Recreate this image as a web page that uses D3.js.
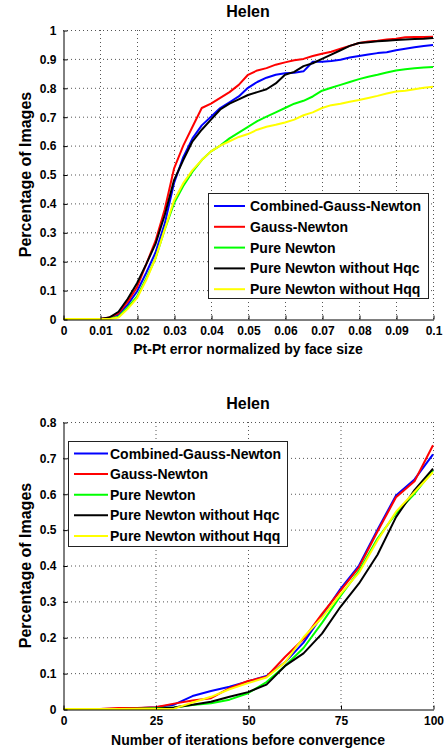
<!DOCTYPE html>
<html>
<head>
<meta charset="utf-8">
<script src="https://cdn.jsdelivr.net/npm/d3@7/dist/d3.min.js"></script>
<style>
  body { margin: 0; background: #fff; }
  text { font-family: "Liberation Sans", Arial, Helvetica, sans-serif; font-weight: bold; fill: #000; }
  .grid line { stroke: #555; stroke-dasharray: 1,3; stroke-width: 1; }
  .axis path, .axis line { stroke: #000; }
</style>
</head>
<body>
<div id="chart"></div>
<script>
const seriesNames = ['Combined-Gauss-Newton', 'Gauss-Newton', 'Pure Newton', 'Pure Newton without Hqc', 'Pure Newton without Hqq'];
const seriesColors = ['#0000ff', '#ff0000', '#00ff00', '#000000', '#ffff00'];

// top panel: cumulative error curves
const errX = [0, 0.01, 0.0125, 0.015, 0.0175, 0.02, 0.0225, 0.025, 0.0275, 0.03, 0.0325, 0.035, 0.0375, 0.04,
  0.0425, 0.045, 0.0475, 0.05, 0.0525, 0.055, 0.0575, 0.06, 0.0625, 0.065, 0.0675, 0.07, 0.0725, 0.075,
  0.0775, 0.08, 0.0825, 0.085, 0.0875, 0.09, 0.0925, 0.095, 0.0975, 0.1];
const errBlue = [0, 0, 0.003, 0.015, 0.05, 0.095, 0.16, 0.23, 0.33, 0.47, 0.56, 0.625, 0.67, 0.70, 0.73, 0.75,
  0.77, 0.80, 0.82, 0.835, 0.845, 0.85, 0.852, 0.857, 0.89, 0.89, 0.893, 0.897, 0.905, 0.91, 0.915, 0.92,
  0.923, 0.93, 0.935, 0.94, 0.945, 0.948];
const errRed = [0, 0, 0.005, 0.02, 0.06, 0.11, 0.19, 0.27, 0.38, 0.52, 0.60, 0.665, 0.73, 0.745, 0.765, 0.785,
  0.81, 0.845, 0.86, 0.868, 0.88, 0.888, 0.895, 0.90, 0.91, 0.918, 0.925, 0.935, 0.945, 0.955, 0.96, 0.963,
  0.967, 0.97, 0.975, 0.976, 0.976, 0.977];
const errGreen = [0, 0, 0.001, 0.008, 0.04, 0.077, 0.14, 0.21, 0.31, 0.40, 0.46, 0.51, 0.55, 0.58, 0.60, 0.625,
  0.645, 0.665, 0.685, 0.70, 0.715, 0.73, 0.745, 0.755, 0.77, 0.79, 0.80, 0.81, 0.82, 0.83, 0.838, 0.845,
  0.853, 0.86, 0.864, 0.868, 0.87, 0.872];
const errBlack = [0, 0, 0.005, 0.025, 0.07, 0.124, 0.19, 0.26, 0.36, 0.48, 0.55, 0.615, 0.655, 0.69, 0.725, 0.745,
  0.76, 0.775, 0.785, 0.795, 0.815, 0.845, 0.855, 0.875, 0.885, 0.90, 0.915, 0.93, 0.945, 0.955, 0.958, 0.961,
  0.963, 0.965, 0.967, 0.969, 0.97, 0.972];
const errYellow = [0, 0, 0, 0.005, 0.035, 0.072, 0.135, 0.21, 0.31, 0.41, 0.47, 0.515, 0.55, 0.58, 0.60, 0.615,
  0.63, 0.64, 0.655, 0.665, 0.672, 0.68, 0.69, 0.705, 0.715, 0.73, 0.74, 0.745, 0.752, 0.758, 0.765, 0.772,
  0.78, 0.787, 0.79, 0.795, 0.80, 0.804];
const errXTicks = [0, 0.01, 0.02, 0.03, 0.04, 0.05, 0.06, 0.07, 0.08, 0.09, 0.1];
const errYTicks = [0, 0.1, 0.2, 0.3, 0.4, 0.5, 0.6, 0.7, 0.8, 0.9, 1];

// bottom panel: iterations before convergence
const itX = [0, 5, 10, 15, 20, 25, 30, 35, 40, 45, 50, 55, 60, 65, 70, 75, 80, 85, 90, 95, 100];
const itBlue = [0, 0, 0, 0.001, 0.002, 0.005, 0.012, 0.036, 0.05, 0.062, 0.077, 0.092, 0.13, 0.185, 0.26, 0.335, 0.40, 0.50, 0.595, 0.64, 0.71];
const itRed = [0, 0, 0, 0.003, 0.003, 0.005, 0.015, 0.024, 0.03, 0.058, 0.078, 0.09, 0.145, 0.195, 0.265, 0.33, 0.395, 0.495, 0.59, 0.635, 0.735];
const itGreen = [0, 0, 0, 0, 0.001, 0.002, 0.004, 0.011, 0.016, 0.026, 0.044, 0.075, 0.12, 0.17, 0.24, 0.315, 0.385, 0.475, 0.545, 0.60, 0.665];
const itBlack = [0, 0, 0, 0, 0, 0.001, 0.004, 0.012, 0.02, 0.034, 0.047, 0.068, 0.12, 0.155, 0.21, 0.285, 0.35, 0.43, 0.535, 0.61, 0.67];
const itYellow = [0, 0, 0, 0, 0, 0, 0.001, 0.018, 0.034, 0.055, 0.072, 0.088, 0.13, 0.2, 0.255, 0.32, 0.38, 0.47, 0.55, 0.605, 0.66];
const itXTicks = [0, 25, 50, 75, 100];
const itYTicks = [0, 0.1, 0.2, 0.3, 0.4, 0.5, 0.6, 0.7, 0.8];

const svg = d3.select('#chart').append('svg')
  .attr('width', 445).attr('height', 752);

svg.append('rect').attr('width', 445).attr('height', 752).attr('fill', '#fff');

function drawPanel(p) {
  const x = d3.scaleLinear().domain(p.xDomain).range([p.left, p.right]);
  const y = d3.scaleLinear().domain(p.yDomain).range([p.bottom, p.top]);
  const g = svg.append('g');

  // dotted grid
  const grid = g.append('g').attr('class', 'grid');
  grid.selectAll('.gx').data(p.xTicks.filter(d => d !== p.xDomain[0])).enter().append('line')
    .attr('x1', d => x(d) + 0.5).attr('x2', d => x(d) + 0.5)
    .attr('y1', p.top).attr('y2', p.bottom);
  grid.selectAll('.gy').data(p.yTicks.filter(d => d !== p.yDomain[0])).enter().append('line')
    .attr('x1', p.left).attr('x2', p.right)
    .attr('y1', d => y(d) + 0.5).attr('y2', d => y(d) + 0.5);

  // curves
  const line = d3.line().x(d => x(d[0])).y(d => y(d[1]));
  p.series.forEach((vals, i) => {
    g.append('path')
      .datum(p.xs.map((v, j) => [v, vals[j]]))
      .attr('fill', 'none')
      .attr('stroke', seriesColors[i])
      .attr('stroke-width', 2)
      .attr('stroke-linejoin', 'round')
      .attr('d', line);
  });

  // axes
  const xAxis = g.append('g').attr('class', 'axis')
    .attr('transform', `translate(0.5, ${p.bottom + 0.5})`)
    .call(d3.axisBottom(x).tickValues(p.xTicks).tickSizeInner(-4).tickSizeOuter(0)
      .tickPadding(7).tickFormat(d3.format('~g')));
  const yAxis = g.append('g').attr('class', 'axis')
    .attr('transform', `translate(${p.left + 0.5}, 0.5)`)
    .call(d3.axisLeft(y).tickValues(p.yTicks).tickSizeInner(-4).tickSizeOuter(0)
      .tickPadding(7).tickFormat(d3.format('~g')));
  [xAxis, yAxis].forEach(a => a.selectAll('text')
    .style('font-family', '"Liberation Sans", Arial, sans-serif')
    .style('font-weight', 'bold').attr('font-size', 12).attr('fill', '#000'));

  // titles
  g.append('text').attr('x', (p.left + p.right) / 2).attr('y', p.titleY)
    .attr('text-anchor', 'middle').attr('font-size', 16).text('Helen');
  g.append('text').attr('x', (p.left + p.right) / 2).attr('y', p.xLabelY)
    .attr('text-anchor', 'middle').attr('font-size', 14).text(p.xLabel);
  g.append('text')
    .attr('transform', `translate(${p.yLabelX}, ${(p.top + p.bottom) / 2}) rotate(-90)`)
    .attr('text-anchor', 'middle').attr('font-size', 16).text('Percentage of Images');

  // legend
  const lg = g.append('g');
  lg.append('rect')
    .attr('x', p.legend.x + 0.5).attr('y', p.legend.y + 0.5)
    .attr('width', p.legend.w).attr('height', p.legend.h)
    .attr('fill', '#fff').attr('stroke', '#222');
  seriesNames.forEach((name, i) => {
    const cy = p.legend.y + p.legend.row0 + i * p.legend.step;
    lg.append('line')
      .attr('x1', p.legend.x + p.legend.s0).attr('x2', p.legend.x + p.legend.s1)
      .attr('y1', cy).attr('y2', cy)
      .attr('stroke', seriesColors[i]).attr('stroke-width', 2);
    lg.append('text')
      .attr('x', p.legend.x + p.legend.tx).attr('y', cy + 5)
      .attr('font-size', 14).text(name);
  });
}

drawPanel({
  xs: errX,
  series: [errBlue, errRed, errGreen, errBlack, errYellow],
  xDomain: [0, 0.1], yDomain: [0, 1],
  xTicks: errXTicks, yTicks: errYTicks,
  left: 63, right: 433, top: 30, bottom: 319,
  titleY: 17, xLabelY: 354, yLabelX: 31,
  xLabel: 'Pt-Pt error normalized by face size',
  legend: { x: 208, y: 193, w: 220, h: 105, row0: 13, step: 20.8, s0: 6, s1: 37, tx: 42 }
});

drawPanel({
  xs: itX,
  series: [itBlue, itRed, itGreen, itBlack, itYellow],
  xDomain: [0, 100], yDomain: [0, 0.8],
  xTicks: itXTicks, yTicks: itYTicks,
  left: 63, right: 433, top: 422, bottom: 709,
  titleY: 409, xLabelY: 745, yLabelX: 31,
  xLabel: 'Number of iterations before convergence',
  legend: { x: 68, y: 441, w: 219, h: 105, row0: 12.5, step: 20.6, s0: 6, s1: 40, tx: 42 }
});
</script>
</body>
</html>
